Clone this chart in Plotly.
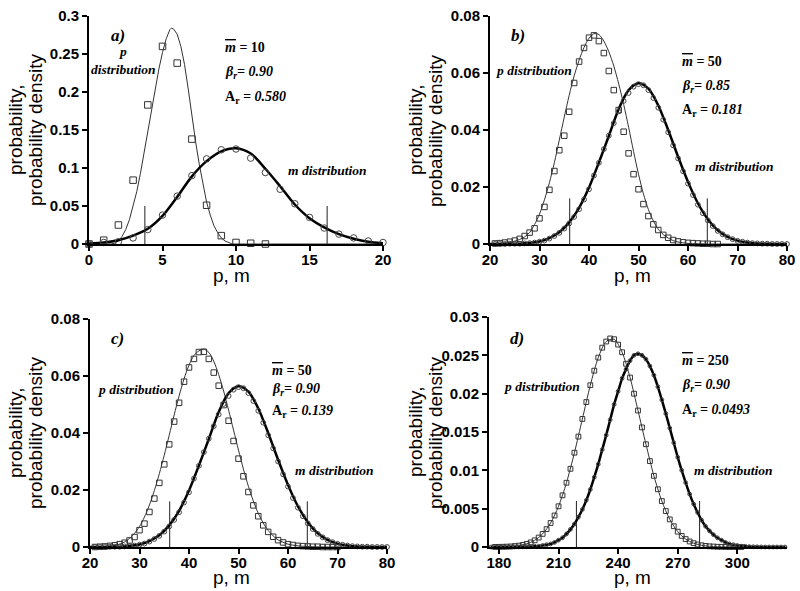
import plotly.graph_objects as go

# ---------------- Panel a (m = 10) ----------------
a_sq_x = list(range(0, 13))
a_sq_y = [0.0, 0.005, 0.025, 0.084, 0.183, 0.260, 0.238, 0.138, 0.051, 0.011, 0.002, 0.001, 0.0]
a_ci_x = list(range(0, 21))
a_ci_y = [0.0, 0.002, 0.003, 0.008, 0.019, 0.038, 0.063, 0.090, 0.112, 0.124, 0.125,
          0.113, 0.094, 0.072, 0.053, 0.035, 0.021, 0.013, 0.008, 0.004, 0.002]
a_p_curve_x = [0, 1.5, 1.75, 2.0, 2.25, 2.5, 2.75, 3.0, 3.25, 3.5, 3.75, 4.0, 4.25, 4.5, 4.75,
               5.0, 5.25, 5.5, 5.6, 5.75, 6.0, 6.25, 6.5, 6.75, 7.0, 7.25, 7.5, 7.75, 8.0,
               8.25, 8.5, 8.75, 9.0, 9.25, 9.5, 9.75, 20]
a_p_curve_y = [0, 0, 0.001, 0.004, 0.010, 0.019, 0.032, 0.049, 0.069, 0.093, 0.120, 0.148, 0.177,
               0.205, 0.230, 0.252, 0.270, 0.282, 0.284, 0.283, 0.276, 0.260, 0.236, 0.204,
               0.168, 0.135, 0.105, 0.078, 0.055, 0.038, 0.024, 0.015, 0.008, 0.004, 0.0015, 0.0, 0]
a_m_curve_x = list(range(0, 21))
a_m_curve_y = [0.0005, 0.002, 0.005, 0.011, 0.020, 0.037, 0.062, 0.089, 0.109, 0.122, 0.126,
               0.119, 0.099, 0.076, 0.052, 0.034, 0.022, 0.013, 0.007, 0.003, 0.001]
a_vlines = [3.8, 16.2]
a_vline_h = 0.05

# ---------------- Panel b (m = 50, beta = 0.85) ----------------
b_sq_x = list(range(21, 67))
b_sq_y = [0.0002, 0.0003, 0.0005, 0.0008, 0.0012, 0.0018, 0.0028, 0.0040, 0.0055, 0.0090,
          0.0130, 0.0190, 0.0256, 0.0329, 0.0380, 0.0464, 0.0565, 0.0640, 0.0688, 0.0724,
          0.0732, 0.0712, 0.0670, 0.0607, 0.0540, 0.0470, 0.0394, 0.0318, 0.0245, 0.0192,
          0.0140, 0.0098, 0.0069, 0.0049, 0.0032, 0.0022, 0.0014, 0.0009, 0.0006, 0.0004,
          0.0003, 0.0002, 0.0001, 0.0001, 0.0, 0.0]
b_p_curve_x = [20, 22, 24, 25, 26, 27, 28, 29, 30, 31, 32, 33, 34, 35, 36, 37, 38, 39, 40, 41,
               42, 43, 44, 45, 46, 47, 48, 49, 50, 51, 52, 53, 54, 55, 56, 57, 58, 60, 62, 65, 80]
b_p_curve_y = [0.0, 0.0002, 0.0006, 0.001, 0.0016, 0.0025, 0.004, 0.0068, 0.0105, 0.0155,
               0.0215, 0.0285, 0.0365, 0.0445, 0.0522, 0.0590, 0.0645, 0.0690, 0.0722, 0.0738,
               0.0735, 0.0712, 0.0675, 0.0625, 0.0562, 0.0490, 0.0410, 0.0325, 0.0245, 0.0176,
               0.0121, 0.0081, 0.0052, 0.0033, 0.0021, 0.0012, 0.0007, 0.0002, 0.0001, 0.0, 0.0]

# m distribution for m = 50 (panels b and c)
m50_ci_x = list(range(21, 81))
m50_ci_y = [0.0, 0.0, 0.0, 0.0001, 0.0001, 0.0001, 0.0002, 0.0003, 0.0005, 0.0008,
            0.0012, 0.0019, 0.0028, 0.0039, 0.0054, 0.0072, 0.0095, 0.0122, 0.0156, 0.0192,
            0.0240, 0.0285, 0.0333, 0.0380, 0.0424, 0.0465, 0.0502, 0.0530, 0.0552, 0.0561,
            0.0557, 0.0540, 0.0512, 0.0478, 0.0436, 0.0392, 0.0346, 0.0300, 0.0255, 0.0212,
            0.0172, 0.0138, 0.0108, 0.0083, 0.0063, 0.0046, 0.0034, 0.0024, 0.0017, 0.0011,
            0.0008, 0.0005, 0.0003, 0.0002, 0.0001, 0.0001, 0.0, 0.0, 0.0, 0.0]
m50_curve_x = list(range(20, 81, 2))
m50_curve_y = [0.0, 0.00001, 0.00005, 0.0001, 0.0004, 0.0009, 0.0021, 0.0041, 0.0076, 0.0127,
               0.0198, 0.0286, 0.0379, 0.0474, 0.0540, 0.0564, 0.0545, 0.0486, 0.0400, 0.0306,
               0.0218, 0.0143, 0.0087, 0.0048, 0.0025, 0.0012, 0.0005, 0.0002, 0.0001, 0.0, 0.0]
bc_vlines = [36.1, 63.9]
bc_vline_h = 0.016

# ---------------- Panel c (m = 50, beta = 0.90) ----------------
c_sq_x = list(range(21, 71))
c_sq_y = [0.0, 0.0001, 0.0002, 0.0004, 0.0006, 0.001, 0.0015, 0.0023, 0.0035, 0.0059,
          0.0082, 0.0123, 0.017, 0.0225, 0.029, 0.036, 0.044, 0.0506, 0.058, 0.063,
          0.066, 0.0684, 0.0685, 0.066, 0.0612, 0.0566, 0.0498, 0.0443, 0.0372, 0.031,
          0.0248, 0.0193, 0.0146, 0.0108, 0.0076, 0.0053, 0.0036, 0.0024, 0.0016, 0.001,
          0.0007, 0.0004, 0.0003, 0.0002, 0.0001, 0.0001, 0.0, 0.0, 0.0, 0.0]
c_p_curve_x = [20, 22, 24, 26, 27, 28, 29, 30, 31, 32, 33, 34, 35, 36, 37, 38, 39, 40, 41, 42,
               43, 44, 45, 46, 47, 48, 49, 50, 51, 52, 53, 54, 55, 56, 57, 58, 60, 62, 65, 68, 80]
c_p_curve_y = [0.0, 0.0001, 0.0003, 0.001, 0.0018, 0.003, 0.0048, 0.0072, 0.0105, 0.0147,
               0.0198, 0.0257, 0.0322, 0.0392, 0.0463, 0.0530, 0.0590, 0.0638, 0.0672, 0.0688,
               0.0694, 0.0683, 0.0652, 0.0605, 0.0547, 0.0480, 0.0410, 0.0340, 0.0273, 0.0213,
               0.0161, 0.0118, 0.0084, 0.0058, 0.0039, 0.0025, 0.0010, 0.0004, 0.0001, 0.0, 0.0]

# ---------------- Panel d (m = 250) ----------------
d_sq_x = list(range(178, 304, 2))
d_sq_y = [0.00001, 0.00002, 0.00003, 0.00005, 0.00007, 0.00012, 0.00018, 0.00027, 0.00041, 0.0006,
          0.00087, 0.00123, 0.00171, 0.00233, 0.00313, 0.00411, 0.00531, 0.00674, 0.00838, 0.0102,
          0.0123, 0.0144, 0.0167, 0.0189, 0.0211, 0.0230, 0.0247, 0.0260, 0.0268, 0.0272,
          0.0271, 0.0264, 0.0254, 0.0239, 0.0221, 0.0200, 0.0178, 0.0156, 0.0134, 0.0112,
          0.00928, 0.00753, 0.00599, 0.00469, 0.0036, 0.00271, 0.002, 0.00145, 0.00103, 0.00072,
          0.0005, 0.00033, 0.00022, 0.00014, 0.00009, 0.00006, 0.00003, 0.00002, 0.00001, 0.0,
          0.0, 0.0, 0.0]
d_p_curve_x = [175, 178, 182, 186, 190, 194, 198, 202, 206, 210, 214, 218, 222, 226, 230, 234,
               238, 242, 246, 250, 254, 258, 262, 266, 270, 274, 278, 282, 286, 290, 294, 298,
               302, 325]
d_p_curve_y = [0.0, 0.00001, 0.00003, 0.00007, 0.00018, 0.00041, 0.00087, 0.00171, 0.00313,
               0.00531, 0.00838, 0.0123, 0.0167, 0.0211, 0.0247, 0.0268, 0.0271, 0.0254, 0.0221,
               0.0178, 0.0134, 0.00928, 0.00599, 0.0036, 0.002, 0.00103, 0.0005, 0.00022,
               0.00009, 0.00003, 0.00001, 0.0, 0.0, 0.0]
d_m_x = list(range(176, 326, 2))
d_m_y = [0, 0, 0, 0, 0, 0, 0,
         0.00001, 0.00002, 0.00003, 0.00005, 0.0001, 0.0001, 0.0002, 0.0003, 0.0004, 0.0006,
         0.0009, 0.0012, 0.0017, 0.0023, 0.0030, 0.0039, 0.0049, 0.0061, 0.0075, 0.0091,
         0.0108, 0.0127, 0.0146, 0.0166, 0.0186, 0.0203, 0.0220, 0.0232, 0.0243, 0.0250,
         0.0252, 0.0250, 0.0245, 0.0236, 0.0224, 0.0209, 0.0192, 0.0174, 0.0155, 0.0136,
         0.0117, 0.0100, 0.0084, 0.0069, 0.0056, 0.0045, 0.0035, 0.0027, 0.0021, 0.0016,
         0.0012, 0.0009, 0.0006, 0.0004, 0.0003, 0.0002, 0.0001, 0.0001, 0.00005, 0.00003,
         0.00002, 0.00001,
         0, 0, 0, 0, 0, 0]
d_vlines = [219, 281]
d_vline_h = 0.006

# ---------------- axes / labels ----------------
a_xticks = [0, 5, 10, 15, 20]
a_yticks = [0, 0.05, 0.1, 0.15, 0.2, 0.25, 0.3]
a_yticktext = ["0", "0.05", "0.1", "0.15", "0.2", "0.25", "0.3"]
bc_xticks = [20, 30, 40, 50, 60, 70, 80]
bc_yticks = [0, 0.02, 0.04, 0.06, 0.08]
bc_yticktext = ["0", "0.02", "0.04", "0.06", "0.08"]
d_xticks = [180, 210, 240, 270, 300]
d_yticks = [0, 0.005, 0.01, 0.015, 0.02, 0.025, 0.03]
d_yticktext = ["0", "0.005", "0.01", "0.015", "0.02", "0.025", "0.03"]

W, H = 800, 591
SERIF = "Liberation Serif"
SANS = "Liberation Sans"

fig = go.Figure()


def add_panel(n, sq_x, sq_y, ci_x, ci_y, p_x, p_y, m_x, m_y, vl, vh, sq_size, ci_size, p_spline):
    xa = "x" if n == 1 else f"x{n}"
    ya = "y" if n == 1 else f"y{n}"
    for v in vl:
        fig.add_trace(go.Scatter(x=[v, v], y=[0, vh], mode="lines", xaxis=xa, yaxis=ya,
                                 line=dict(color="#222", width=1), showlegend=False, hoverinfo="skip"))
    fig.add_trace(go.Scatter(x=p_x, y=p_y, mode="lines", xaxis=xa, yaxis=ya,
                             line=dict(color="#333", width=1,
                                       shape="spline" if p_spline else "linear", smoothing=0.8),
                             showlegend=False))
    fig.add_trace(go.Scatter(x=m_x, y=m_y, mode="lines", xaxis=xa, yaxis=ya,
                             line=dict(color="black", width=2.5, shape="spline", smoothing=0.8),
                             showlegend=False))
    fig.add_trace(go.Scatter(x=sq_x, y=sq_y, mode="markers", xaxis=xa, yaxis=ya, cliponaxis=False,
                             marker=dict(symbol="square-open", size=sq_size, color="#333",
                                         line=dict(width=1, color="#333")), showlegend=False))
    fig.add_trace(go.Scatter(x=ci_x, y=ci_y, mode="markers", xaxis=xa, yaxis=ya, cliponaxis=False,
                             marker=dict(symbol="circle-open", size=ci_size, color="#444",
                                         line=dict(width=1, color="#444")), showlegend=False))


add_panel(1, a_sq_x, a_sq_y, a_ci_x, a_ci_y, a_p_curve_x, a_p_curve_y, a_m_curve_x, a_m_curve_y,
          a_vlines, a_vline_h, 6.5, 6.5, False)
add_panel(2, b_sq_x, b_sq_y, m50_ci_x, m50_ci_y, b_p_curve_x, b_p_curve_y, m50_curve_x, m50_curve_y,
          bc_vlines, bc_vline_h, 5.5, 4.8, True)
add_panel(3, c_sq_x, c_sq_y, m50_ci_x, m50_ci_y, c_p_curve_x, c_p_curve_y, m50_curve_x, m50_curve_y,
          bc_vlines, bc_vline_h, 5.5, 4.8, True)
add_panel(4, d_sq_x, d_sq_y, d_m_x, d_m_y, d_p_curve_x, d_p_curve_y, d_m_x, d_m_y,
          d_vlines, d_vline_h, 4.8, 3.8, True)


def px_x(p):
    return p / W


def px_y(p):
    return 1 - p / H


axis_common = dict(showgrid=False, zeroline=False, showline=True, linecolor="black", linewidth=2,
                   ticks="outside", ticklen=5, tickwidth=2, tickcolor="black", automargin=False,
                   tickfont=dict(family=SANS, size=15, color="black", weight="bold"))

panels = [
    (1, (89, 383), (16, 244), [0, 20], [0, 0.3], a_xticks, a_yticks, a_yticktext),
    (2, (490, 787), (16, 244), [20, 80], [0, 0.08], bc_xticks, bc_yticks, bc_yticktext),
    (3, (90, 387), (319, 547), [20, 80], [0, 0.08], bc_xticks, bc_yticks, bc_yticktext),
    (4, (489, 787), (317, 547), [175, 325], [0, 0.03], d_xticks, d_yticks, d_yticktext),
]
layout_axes = {}
for n, xd, yd, xr, yr, xt, yt, ytt in panels:
    xk = "xaxis" if n == 1 else f"xaxis{n}"
    yk = "yaxis" if n == 1 else f"yaxis{n}"
    layout_axes[xk] = dict(axis_common, domain=[px_x(xd[0]), px_x(xd[1])], range=xr,
                           anchor="y" if n == 1 else f"y{n}", tickvals=xt,
                           ticktext=[str(v) for v in xt], ticklabelstandoff=-4)
    layout_axes[yk] = dict(axis_common, domain=[px_y(yd[1]), px_y(yd[0])], range=yr,
                           anchor="x" if n == 1 else f"x{n}", tickvals=yt, ticktext=ytt)

annotations = []


def ann(text, x, y, size=14, font=SERIF, xanchor="center", angle=0, ref=None):
    d = dict(text=text, x=x, y=y, showarrow=False, xanchor=xanchor, yanchor="middle",
             textangle=angle, font=dict(family=font, size=size, color="black"))
    if ref is None:
        d.update(xref="paper", yref="paper")
    else:
        d.update(xref=ref[0], yref=ref[1])
    annotations.append(d)


for cx, cy in [(25, 130), (425, 130), (25, 433), (425, 432)]:
    ann("probability,", px_x(cx - 10), px_y(cy), size=19, font=SANS, angle=-90)
    ann("probability density", px_x(cx + 10), px_y(cy), size=19, font=SANS, angle=-90)
for cx, cy in [(232, 275), (632, 275), (232, 577), (632, 577)]:
    ann("p, m", px_x(cx), px_y(cy), size=19, font=SANS)

panel_texts = [
    (("x", "y"), "a)", (1.94, 0.275), "<b><i>p</i></b><br><b><i>distribution</i></b>", (2.35, 0.241),
     (16.2, 0.097), 9.1, [0.259, 0.226, 0.193], "10", "0.90", "0.580"),
    (("x2", "y2"), "b)", (25.6, 0.0732), "<b><i>p distribution</i></b>", (28.8, 0.061),
     (69.2, 0.0271), 58.4, [0.0639, 0.0554, 0.047], "50", "0.85", "0.181"),
    (("x3", "y3"), "c)", (25.6, 0.0732), "<b><i>p distribution</i></b>", (29.3, 0.0551),
     (69.2, 0.0269), 56.4, [0.0621, 0.0551, 0.0474], "50", "0.90", "0.139"),
    (("x4", "y4"), "d)", (189.3, 0.0272), "<b><i>p distribution</i></b>", (201.5, 0.0209),
     (298.0, 0.0100), 271.1, [0.02435, 0.0211, 0.0178], "250", "0.90", "0.0493"),
]
for ref, lab, labpos, ptxt, ppos, mpos, px0, pys, mbar, beta, ar in panel_texts:
    ann(f"<b><i>{lab}</i></b>", labpos[0], labpos[1], size=17, ref=ref)
    ann(ptxt, ppos[0], ppos[1], size=13.5, ref=ref)
    ann("<b><i>m distribution</i></b>", mpos[0], mpos[1], size=13.5, ref=ref)
    ann(f"<b><i><span style='text-decoration:overline'>m</span></i> = {mbar}</b>",
        px0, pys[0], size=14, xanchor="left", ref=ref)
    ann(f"<b><i>\u03b2<sub>r</sub>= {beta}</i></b>", px0, pys[1], size=14, xanchor="left", ref=ref)
    ann(f"<b>A<sub>r</sub> <i>= {ar}</i></b>", px0, pys[2], size=14, xanchor="left", ref=ref)

fig.update_layout(width=W, height=H, margin=dict(l=0, r=0, t=0, b=0, autoexpand=False),
                  paper_bgcolor="white", plot_bgcolor="white", showlegend=False,
                  annotations=annotations, **layout_axes)

fig.write_html("out.html", config={"displayModeBar": False},
               post_script="document.body.style.margin='0';document.body.style.padding='0';")
